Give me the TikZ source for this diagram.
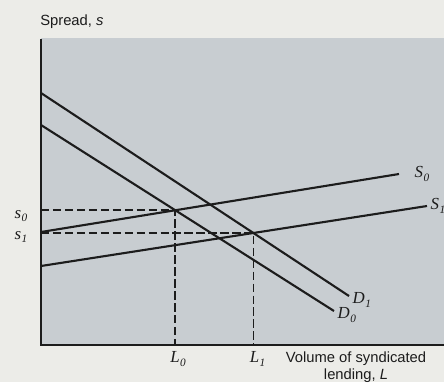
\documentclass[tikz,border=0pt]{standalone}
\usepackage{fontspec}
\setmainfont{Liberation Serif}
\newfontfamily\titlefont{Liberation Sans}
\usepackage{tikz}
\usetikzlibrary{
    positioning,
    calc,
}
\definecolor{paper}{RGB}{236,236,232}
\definecolor{panel}{RGB}{200,205,209}
\definecolor{ink}{RGB}{28,28,28}
\newcommand{\lvl}[2]{\textit{#1}\kern0.3pt\raisebox{-0.45ex}{\footnotesize\textit{#2}}}

\begin{document}
\begin{tikzpicture}[
    x=0.025cm, y=-0.025cm,
    axis/.style={draw=ink, line width=1.5pt},
    schedule/.style={draw=ink, line width=1.5pt},
    guide/.style={draw=ink, line width=1.3pt, dash pattern=on 6pt off 2.5pt},
    curve label/.style={font=\large, text=ink, inner sep=1pt},
    level label/.style={font=\large, text=ink, inner sep=1pt},
    axis title/.style={font=\titlefont\fontsize{10.5}{12}\selectfont, text=ink, inner sep=0pt},
]
    % Page and shaded panel
    \useasboundingbox[fill=paper] (0,0) rectangle (444,382);
    \fill[panel] (41,38) rectangle (444,345);

    % Axes
    \coordinate (origin) at (41,345);
    \coordinate (ytop) at (41,39);
    \coordinate (xend) at (444,345);
    \draw[axis] (ytop) -- (origin) -- (xend);

    % Demand and supply schedules
    \coordinate (D0 start) at (41,125);
    \coordinate (D0 end) at (334,311);
    \coordinate (D1 start) at (41,93);
    \coordinate (D1 end) at (349,296);
    \coordinate (S0 start) at (41,232);
    \coordinate (S0 end) at (399,174);
    \coordinate (S1 start) at (41,266);
    \coordinate (S1 end) at (427,206);
    \draw[schedule] (D0 start) -- (D0 end);
    \draw[schedule] (D1 start) -- (D1 end);
    \draw[schedule] (S0 start) -- (S0 end);
    \draw[schedule] (S1 start) -- (S1 end);

    % Equilibria
    \coordinate (E0) at (intersection of D0 start--D0 end and S0 start--S0 end);
    \coordinate (E1) at (intersection of D1 start--D1 end and S1 start--S1 end);
    \coordinate (s0 pt) at (origin |- E0);
    \coordinate (s1 pt) at (origin |- E1);
    \coordinate (L0 pt) at (E0 |- origin);
    \coordinate (L1 pt) at (E1 |- origin);
    \draw[guide] (s0 pt) -- (E0) -- (L0 pt);
    \draw[guide] (s1 pt) -- (E1) -- (L1 pt);

    % Labels
    \node[level label, left=3mm of s0 pt, yshift=-4pt] (s0) {\lvl{s}{0}};
    \node[level label, left=3mm of s1 pt, yshift=-3pt] (s1) {\lvl{s}{1}};
    \node[level label, below=1.2mm of L0 pt, xshift=2pt] (L0) {\lvl{L}{0}};
    \node[level label, below=1.2mm of L1 pt, xshift=3pt] (L1) {\lvl{L}{1}};
    \node[curve label, right=3.5mm of S0 end] (S0) {\lvl{S}{0}};
    \node[curve label, right=0.5mm of S1 end] (S1) {\lvl{S}{1}};
    \node[curve label, below right=-1.2mm and 0.5mm of D1 end] (D1) {\lvl{D}{1}};
    \node[curve label, below right=-1.2mm and 0.5mm of D0 end] (D0) {\lvl{D}{0}};
    \node[axis title, anchor=base west] (ytitle) at (40,25) {Spread, \textit{s}};
    \node[axis title, align=center] (xtitle) at (356,367) {Volume of syndicated\\[0pt]lending, \textit{L}};
\end{tikzpicture}
\end{document}
